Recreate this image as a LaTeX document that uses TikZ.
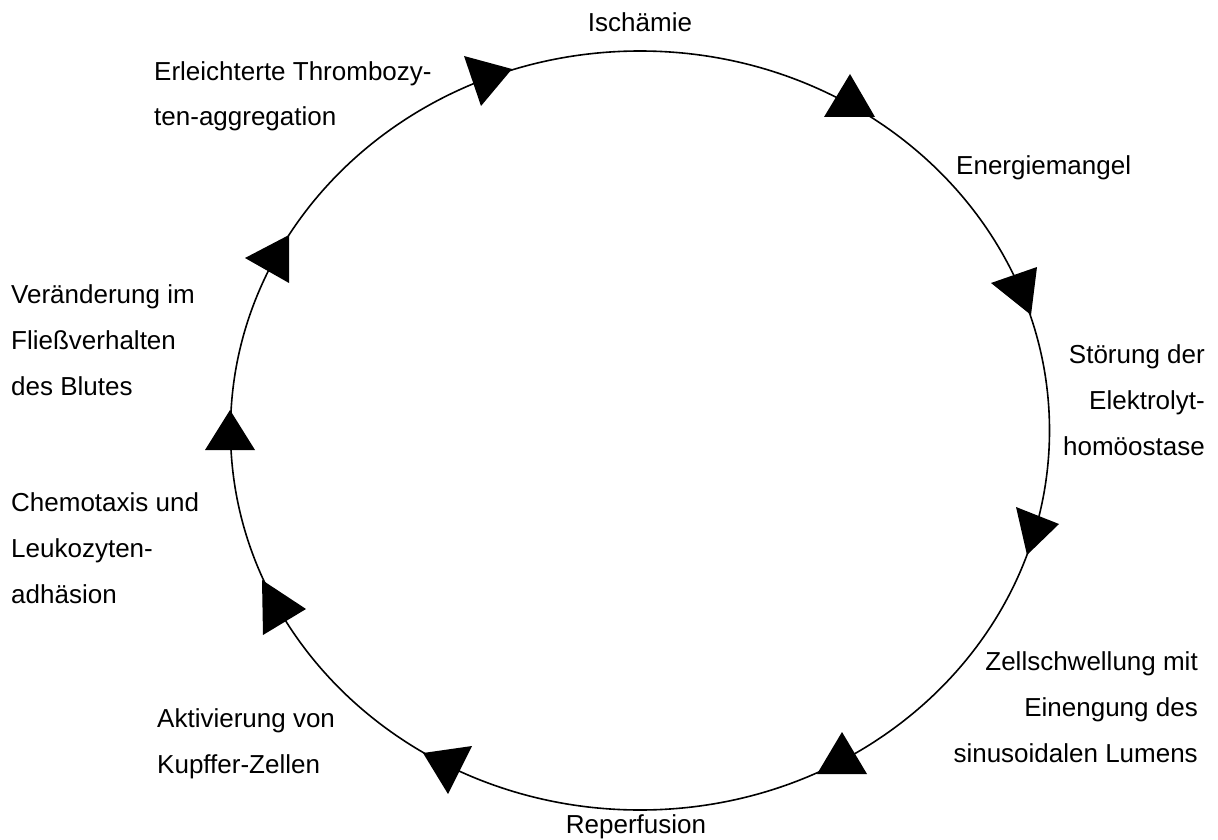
\documentclass[tikz,border=0pt]{standalone}
\usepackage{fontspec}
\setmainfont{Liberation Sans}
\begin{document}
\begin{tikzpicture}[x=1pt,y=-1pt,
  lbl/.style={inner sep=0pt,font=\fontsize{26}{45.8}\selectfont},
  lbll/.style={lbl,align=left,anchor=base west},
  lblr/.style={lbl,align=right,anchor=base east},
  cyc/.style={line width=1.6pt,draw=black},
  tri/.style={fill=black}]
\useasboundingbox (0,0) rectangle (1218,840);
% cycle
\draw[cyc] (640,430.5) ellipse [x radius=409.5, y radius=379.5];
% arrowheads
\fill[tri] (464,56) -- (512,69) -- (481,106) -- cycle;
\fill[tri] (850,74) -- (824,117) -- (875,117) -- cycle;
\fill[tri] (991,283) -- (1037,267) -- (1031,315) -- cycle;
\fill[tri] (1016,507) -- (1059,524) -- (1027,555) -- cycle;
\fill[tri] (842,732) -- (817,774) -- (867,774) -- cycle;
\fill[tri] (423,753) -- (472,746) -- (448,794) -- cycle;
\fill[tri] (262,580) -- (306,609) -- (263,635) -- cycle;
\fill[tri] (230,410) -- (205,450) -- (255,450) -- cycle;
\fill[tri] (245,258) -- (289,235) -- (289,283) -- cycle;
% labels (base anchor = baseline of the last line)
\node[lbl,anchor=base] (isch) at (640,32) {Ischämie};
\node[lbll] (energ) at (956,175) {Energiemangel};
\node[lblr] (stoer) at (1205,455) {Störung der\\Elektrolyt-\\homöostase};
\node[lblr] (zell) at (1198,762) {Zellschwellung mit\\Einengung des\\sinusoidalen Lumens};
\node[lbl,anchor=base] (reperf) at (636,833) {Reperfusion};
\node[lbll] (kupff) at (157,773) {Aktivierung von\\Kupffer-Zellen};
\node[lbll] (chemo) at (11,603) {Chemotaxis und\\Leukozyten-\\adhäsion};
\node[lbll] (fliess) at (11,395) {Veränderung im\\Fließverhalten\\des Blutes};
\node[lbll] (thromb) at (154,126) {Erleichterte Thrombozy-\\ten-aggregation};
\end{tikzpicture}
\end{document}
